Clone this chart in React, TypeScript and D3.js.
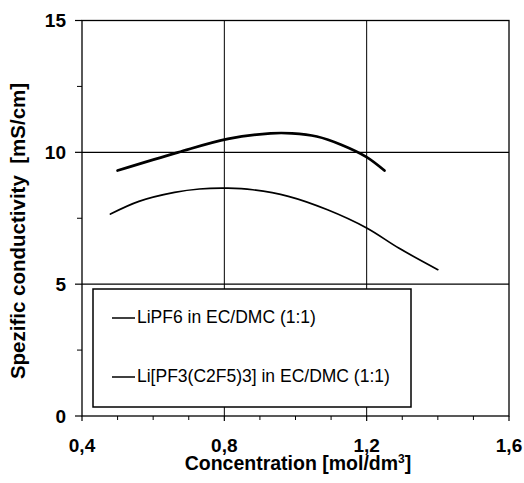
import React from "react";
import * as d3 from "d3";

// values
const concLiPF6 = [0.5, 0.67, 0.81, 0.93, 0.99, 1.06, 1.13, 1.2, 1.25];
const condLiPF6 = [9.31, 10.0, 10.51, 10.72, 10.72, 10.6, 10.28, 9.82, 9.31];

const concFAP = [0.48, 0.56, 0.66, 0.73, 0.81, 0.88, 0.98, 1.09, 1.2, 1.29, 1.4];
const condFAP = [7.66, 8.14, 8.48, 8.61, 8.64, 8.58, 8.33, 7.82, 7.13, 6.37, 5.55];

const seriesNames = ["LiPF6 in EC/DMC (1:1)", "Li[PF3(C2F5)3] in EC/DMC (1:1)"];

const xTicks = [0.4, 0.8, 1.2, 1.6];
const xTickLabels = ["0,4", "0,8", "1,2", "1,6"];
const xMinor = [0.5, 0.6, 0.7, 0.9, 1.0, 1.1, 1.3, 1.4, 1.5];
const yTicks = [0, 5, 10, 15];
const yMinor = [2.5, 7.5, 12.5];

const width = 524;
const height = 483;
const margin = { top: 20.5, right: 15, bottom: 67, left: 82 };
const font = "'Liberation Sans', Arial, sans-serif";

export default function App() {
  const x = d3.scaleLinear().domain([0.4, 1.6]).range([margin.left, width - margin.right]);
  const y = d3.scaleLinear().domain([0, 15]).range([height - margin.bottom, margin.top]);

  const line = d3
    .line<[number, number]>()
    .x(d => x(d[0]))
    .y(d => y(d[1]))
    .curve(d3.curveCatmullRom.alpha(0.5));

  const pts1 = concLiPF6.map((c, i) => [c, condLiPF6[i]] as [number, number]);
  const pts2 = concFAP.map((c, i) => [c, condFAP[i]] as [number, number]);

  const x0 = margin.left;
  const x1 = width - margin.right;
  const yb = height - margin.bottom;
  const yt = margin.top;

  // legend box
  const lg = { x: 93, y: 289, w: 318, h: 118 };
  const legendRows = [318, 377];

  return (
    <svg
      width={width}
      height={height}
      style={{ position: "absolute", left: 0, top: 0, background: "#fff" }}
      fontFamily={font}
    >
      <rect width={width} height={height} fill="#fff" />

      {/* gridlines */}
      {[0.8, 1.2].map(v => (
        <line key={"gx" + v} x1={x(v)} x2={x(v)} y1={yt} y2={yb} stroke="#000" strokeWidth={1} />
      ))}
      {[5, 10].map(v => (
        <line key={"gy" + v} x1={x0} x2={x1} y1={y(v)} y2={y(v)} stroke="#000" strokeWidth={1.2} />
      ))}

      {/* frame */}
      <rect x={x0} y={yt} width={x1 - x0} height={yb - yt} fill="none" stroke="#000" strokeWidth={1.3} />

      {/* y ticks */}
      {yTicks.map(v => (
        <g key={"yt" + v}>
          <line x1={x0 - 7} x2={x0} y1={y(v)} y2={y(v)} stroke="#000" strokeWidth={1.2} />
          <text x={66} y={y(v)} dy="0.36em" textAnchor="end" fontSize={19} fontWeight="bold">
            {v}
          </text>
        </g>
      ))}
      {yMinor.map(v => (
        <line key={"ym" + v} x1={x0 - 5} x2={x0} y1={y(v)} y2={y(v)} stroke="#000" strokeWidth={1} />
      ))}

      {/* x ticks */}
      {xTicks.map((v, i) => (
        <g key={"xt" + v}>
          <line x1={x(v)} x2={x(v)} y1={yb} y2={yb + 5} stroke="#000" strokeWidth={1.2} />
          <text x={x(v)} y={452} textAnchor="middle" fontSize={19} fontWeight="bold">
            {xTickLabels[i]}
          </text>
        </g>
      ))}
      {xMinor.map(v => (
        <line key={"xm" + v} x1={x(v)} x2={x(v)} y1={yb} y2={yb + 4} stroke="#000" strokeWidth={1} />
      ))}

      {/* curves */}
      <path d={line(pts1) || ""} fill="none" stroke="#000" strokeWidth={2.7} strokeLinecap="round" />
      <path d={line(pts2) || ""} fill="none" stroke="#000" strokeWidth={1.7} strokeLinecap="round" />

      {/* legend */}
      <rect x={lg.x} y={lg.y} width={lg.w} height={lg.h} fill="#fff" stroke="#000" strokeWidth={1.5} />
      {seriesNames.map((name, i) => (
        <g key={name}>
          <line x1={112} x2={135} y1={legendRows[i]} y2={legendRows[i]} stroke="#000" strokeWidth={1.5} />
          <text x={137} y={legendRows[i] + 5} fontSize={17.5}>
            {name}
          </text>
        </g>
      ))}

      {/* axis titles */}
      <text x={298} y={470} textAnchor="middle" fontSize={19.5} fontWeight="bold">
        Concentration [mol/dm
        <tspan dy={-7} fontSize={12}>3</tspan>
        <tspan dy={7}>]</tspan>
      </text>
      <text
        transform={`translate(25,231) rotate(-90)`}
        textAnchor="middle"
        fontSize={20.5}
        fontWeight="bold"
        style={{ whiteSpace: "pre" }}
      >
        {"Spezific conductivity  [mS/cm]"}
      </text>
    </svg>
  );
}
